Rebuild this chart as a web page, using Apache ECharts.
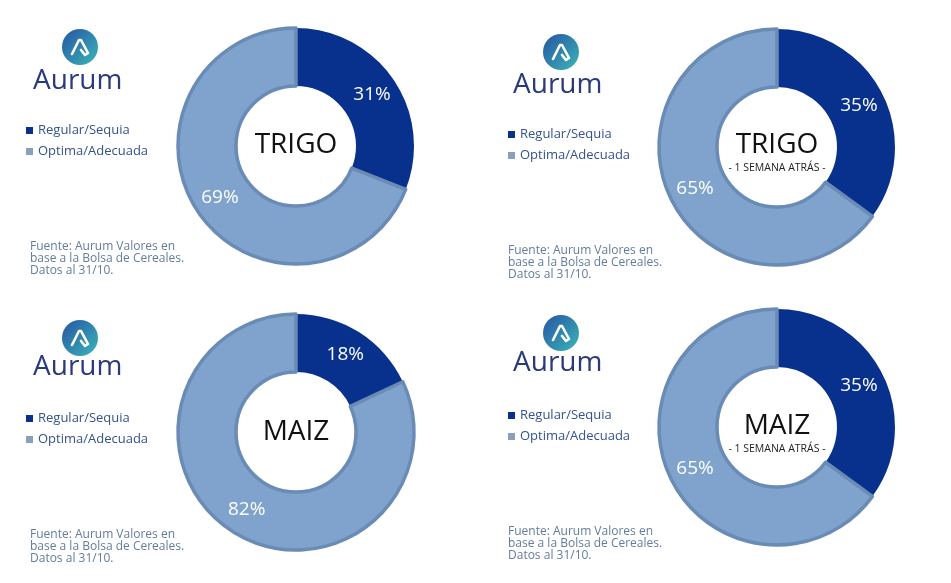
<!DOCTYPE html>
<html>
<head>
<meta charset="utf-8">
<script src="https://cdn.jsdelivr.net/npm/echarts@6/dist/echarts.min.js"></script>
<style>
html,body{margin:0;padding:0;background:#fff;}
#c{width:951px;height:583px;}
</style>
</head>
<body>
<div id="c"></div>
<script>
// ---- data ----
var categories = ['Regular/Sequia', 'Optima/Adecuada'];
var trigoActual = [31, 69];
var trigoSemanaAtras = [35, 65];
var maizActual = [18, 82];
var maizSemanaAtras = [35, 65];
var cropTitles = ['TRIGO', 'TRIGO', 'MAIZ', 'MAIZ'];
var subTitles = [null, '- 1 SEMANA ATRÁS -', null, '- 1 SEMANA ATRÁS -'];
var sourceText = 'Fuente: Aurum Valores en\nbase a la Bolsa de Cereales.\nDatos al 31/10.';
var brandName = 'Aurum';

var seriesValues = [trigoActual, trigoSemanaAtras, maizActual, maizSemanaAtras];

// ---- layout ----
var layout = [
  {cx: 296, cy: 146, tY: 145, logo: [80, 47], word: [33, 81], leg: [26, 123], src: [30, 241]},
  {cx: 777, cy: 147, tY: 145, logo: [561, 52], word: [513, 85], leg: [508, 127], src: [508, 245]},
  {cx: 296, cy: 432, tY: 432, logo: [80, 338], word: [33, 367], leg: [26, 411], src: [30, 529]},
  {cx: 777, cy: 427, tY: 426, logo: [561, 333], word: [513, 363], leg: [508, 408], src: [508, 526]}
];

var DARK = '#07318c';
var LIGHT = '#7fa3cc';
var LIGHT_BORDER = '#6a8bb5';
var FONT = "'Open Sans', 'Noto Sans', sans-serif";

var chart = echarts.init(document.getElementById('c'), null, {renderer: 'canvas'});

var series = layout.map(function (p, i) {
  return {
    type: 'pie',
    center: [p.cx, p.cy],
    radius: [60, 118],
    startAngle: 90,
    clockwise: true,
    silent: true,
    avoidLabelOverlap: false,
    label: {
      show: true,
      position: 'inside',
      formatter: '{c}%',
      color: '#ffffff',
      fontSize: 19,
      fontFamily: FONT
    },
    labelLine: {show: false},
    data: categories.map(function (name, k) {
      return {
        name: name,
        value: seriesValues[i][k],
        itemStyle: k === 0
          ? {color: DARK, borderColor: DARK, borderWidth: 0}
          : {color: LIGHT, borderColor: LIGHT_BORDER, borderWidth: 3.5}
      };
    })
  };
});

var legends = layout.map(function (p) {
  return {
    orient: 'vertical',
    left: p.leg[0],
    top: p.leg[1],
    padding: 0,
    icon: 'rect',
    itemWidth: 7,
    itemHeight: 7,
    itemGap: 6,
    selectedMode: false,
    textStyle: {fontSize: 13, color: '#34528f', fontFamily: FONT, lineHeight: 15},
    data: [
      {name: categories[0], itemStyle: {color: DARK, borderWidth: 0}},
      {name: categories[1], itemStyle: {color: '#8a9fbd', borderWidth: 0}}
    ]
  };
});

var graphics = [];
layout.forEach(function (p, i) {
  graphics.push({
    type: 'circle',
    shape: {cx: p.logo[0], cy: p.logo[1], r: 18},
    style: {
      fill: new echarts.graphic.LinearGradient(0, 0, 1, 1, [
        {offset: 0, color: '#2654a3'},
        {offset: 1, color: '#3bb6b8'}
      ])
    },
    silent: true
  });
  var lx = p.logo[0], ly = p.logo[1];
  graphics.push({
    type: 'polyline',
    shape: {points: [[lx - 8, ly + 7], [lx - 1, ly - 7], [lx + 1, ly - 7], [lx + 8, ly + 6], [lx + 5, ly + 8], [lx + 1, ly + 3]]},
    style: {stroke: '#ffffff', lineWidth: 2.6, fill: null, lineJoin: 'round', lineCap: 'round'},
    silent: true
  });
  graphics.push({
    type: 'text',
    x: p.word[0],
    y: p.word[1],
    style: {text: brandName, font: "normal 28px " + FONT, fill: '#2b3a7b', textAlign: 'left', textVerticalAlign: 'middle', verticalAlign: 'middle'},
    silent: true
  });
  graphics.push({
    type: 'text',
    x: p.cx,
    y: p.tY,
    style: {text: cropTitles[i], font: "normal 28px " + FONT, fill: '#111111', textAlign: 'center', textVerticalAlign: 'middle', verticalAlign: 'middle'},
    silent: true
  });
  if (subTitles[i]) {
    graphics.push({
      type: 'text',
      x: p.cx,
      y: p.tY + 23,
      style: {text: subTitles[i], font: "normal 10.5px " + FONT, fill: '#222222', textAlign: 'center', textVerticalAlign: 'middle', verticalAlign: 'middle'},
      silent: true
    });
  }
  graphics.push({
    type: 'text',
    x: p.src[0],
    y: p.src[1],
    style: {text: sourceText, font: "normal 12px " + FONT, fill: '#647c9c', lineHeight: 12, textAlign: 'left', textVerticalAlign: 'top', verticalAlign: 'top'},
    silent: true
  });
});

chart.setOption({
  backgroundColor: '#ffffff',
  animation: false,
  legend: legends,
  series: series,
  graphic: {elements: graphics}
});
</script>
</body>
</html>
